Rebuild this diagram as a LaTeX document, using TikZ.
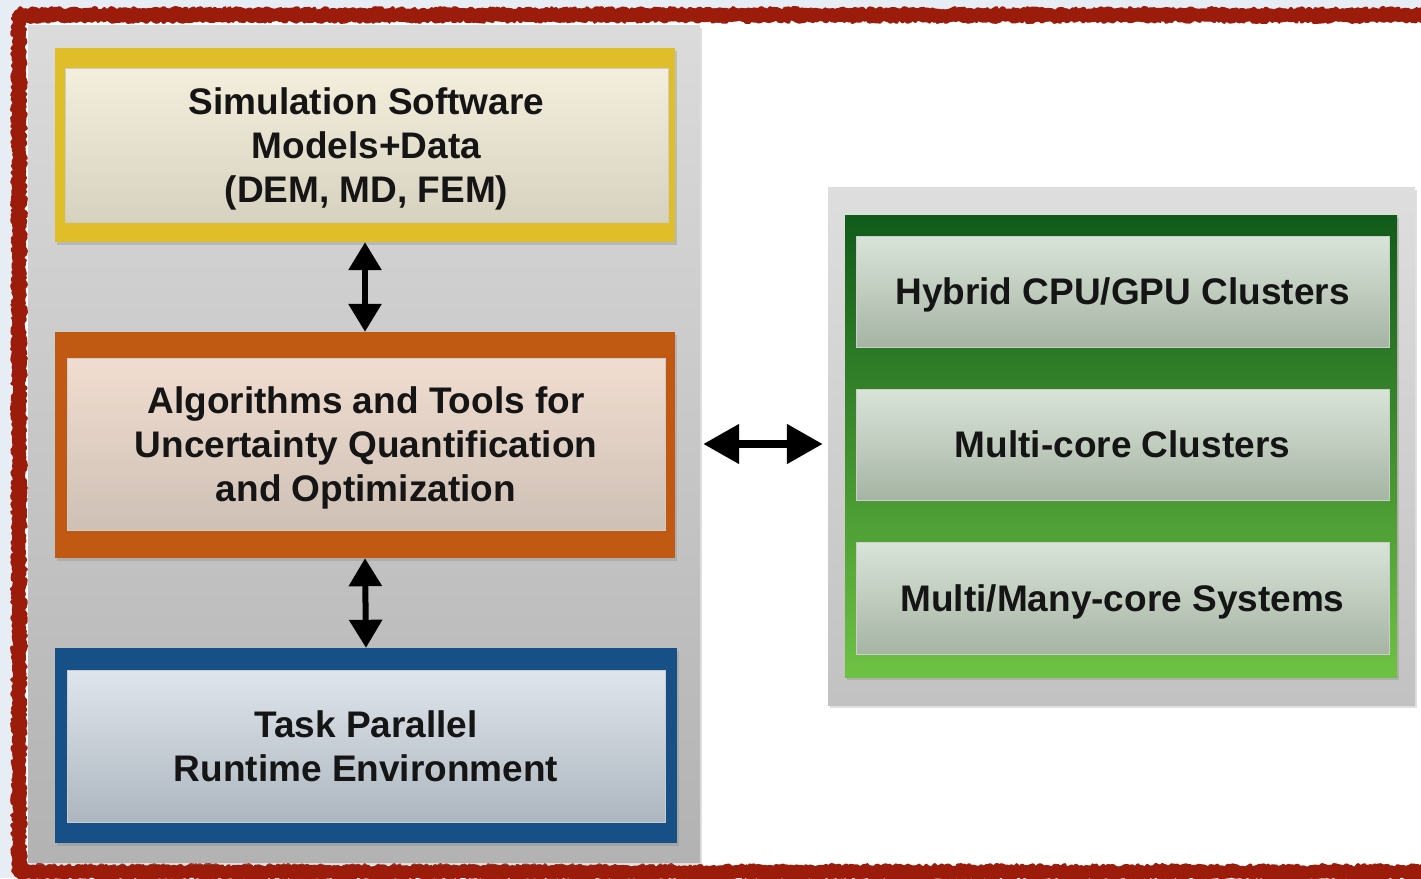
\documentclass[tikz,border=0pt]{standalone}
\usepackage{fontspec}
\setmainfont{Liberation Sans}
\usetikzlibrary{arrows.meta,shadows,decorations.pathmorphing}
\definecolor{paper}{HTML}{E7EDF4}
\definecolor{rough}{HTML}{9C1C0C}
\definecolor{yel}{HTML}{DFBE2A}
\definecolor{ora}{HTML}{C05A12}
\definecolor{blu}{HTML}{174F87}
\definecolor{txt}{HTML}{151515}
\definecolor{yinT}{HTML}{F4EFDC}\definecolor{yinB}{HTML}{D6D2BF}
\definecolor{oinT}{HTML}{F1DDD0}\definecolor{oinB}{HTML}{CEC0B5}
\definecolor{binT}{HTML}{DFE5EC}\definecolor{binB}{HTML}{ADB6BF}
\definecolor{ginT}{HTML}{D8E4D8}\definecolor{ginB}{HTML}{A6B4A4}
\definecolor{gT}{HTML}{105B1A}\definecolor{gM}{HTML}{2E872C}\definecolor{gB}{HTML}{6EC243}
\tikzset{
  panel/.style={draw=none, rectangle, inner sep=0pt,
    drop shadow={opacity=0.25, shadow xshift=2pt, shadow yshift=-3pt}},
  frame/.style={draw=none, rectangle, inner sep=0pt,
    drop shadow={opacity=0.3, shadow xshift=2pt, shadow yshift=-3pt}},
  inbox/.style={draw=white!60!gray, line width=0.6pt, rectangle, inner sep=0pt,
    align=center, text=txt, text depth=0pt, font=\bfseries\fontsize{37}{44}\selectfont},
  dblarrow/.style={{Triangle[width=32pt,length=28pt]}-{Triangle[width=32pt,length=28pt]}, line width=6pt, black},
  hdblarrow/.style={{Triangle[width=38pt,length=36pt]}-{Triangle[width=38pt,length=36pt]}, line width=8pt, black},
  roughline/.style={rough, line join=round, line cap=round, decorate}
}
\begin{document}
\begin{tikzpicture}[x=1pt,y=-1pt]
\useasboundingbox (0,0) rectangle (1421,878);
% paper background and white sheet
\fill[paper] (0,0) rectangle (1421,878);
\fill[white] (19,15) rectangle (1440,872);
\draw[roughline, line width=12pt, decoration={random steps, segment length=3pt, amplitude=1.2pt}]
  (19,15) -- (1440,15) (19,872) -- (1440,872) (19,15) -- (19,872);
\draw[roughline, line width=4pt, decoration={random steps, segment length=2pt, amplitude=2pt}]
  (19,10) -- (1440,10) (19,877) -- (1440,877) (14,15) -- (14,872)
  (19,20) -- (1440,20) (19,867) -- (1440,867) (24,15) -- (24,872);

% left panel
\node[panel, minimum width=672pt, minimum height=837pt, top color=black!14, bottom color=black!30]
  (lp) at (364,443.5) {};
% right panel
\node[panel, minimum width=587pt, minimum height=518pt, top color=black!13, bottom color=black!24]
  (rp) at (1121.5,446) {};

% yellow
\node[frame, fill=yel, minimum width=620pt, minimum height=194pt] (simf) at (365,145) {};
\node[inbox, minimum width=603pt, minimum height=154pt, top color=yinT, bottom color=yinB]
  (sim) at (366.5,145) {Simulation Software\\Models+Data\\(DEM, MD, FEM)};
% orange
\node[frame, fill=ora, minimum width=620pt, minimum height=226pt] (algf) at (365,445) {};
\node[inbox, minimum width=598pt, minimum height=172pt, top color=oinT, bottom color=oinB]
  (alg) at (366,444) {Algorithms and Tools for\\Uncertainty Quantification\\and Optimization};
% blue
\node[frame, fill=blu, minimum width=622pt, minimum height=195pt] (taskf) at (366,745.5) {};
\node[inbox, minimum width=598pt, minimum height=152pt, top color=binT, bottom color=binB]
  (task) at (366,746) {Task Parallel\\Runtime Environment};

% green frame
\node[frame, minimum width=552pt, minimum height=462pt, top color=gT, middle color=gM, bottom color=gB]
  (hw) at (1121,446) {};
\node[inbox, minimum width=533pt, minimum height=111pt, top color=ginT, bottom color=ginB]
  (gpu) at (1122.5,291.5) {Hybrid CPU/GPU Clusters};
\node[inbox, minimum width=533pt, minimum height=111pt, top color=ginT, bottom color=ginB]
  (mcc) at (1122.5,444.5) {Multi-core Clusters};
\node[inbox, minimum width=533pt, minimum height=112pt, top color=ginT, bottom color=ginB]
  (many) at (1122.5,598) {Multi/Many-core Systems};

% arrows
\draw[dblarrow] (simf.south) -- (algf.north);
\draw[dblarrow] (algf.south) -- (taskf.north);
\draw[hdblarrow] ([xshift=3pt]lp.east |- alg.center) -- ([xshift=-5pt]rp.west |- alg.center);
\end{tikzpicture}
\end{document}
